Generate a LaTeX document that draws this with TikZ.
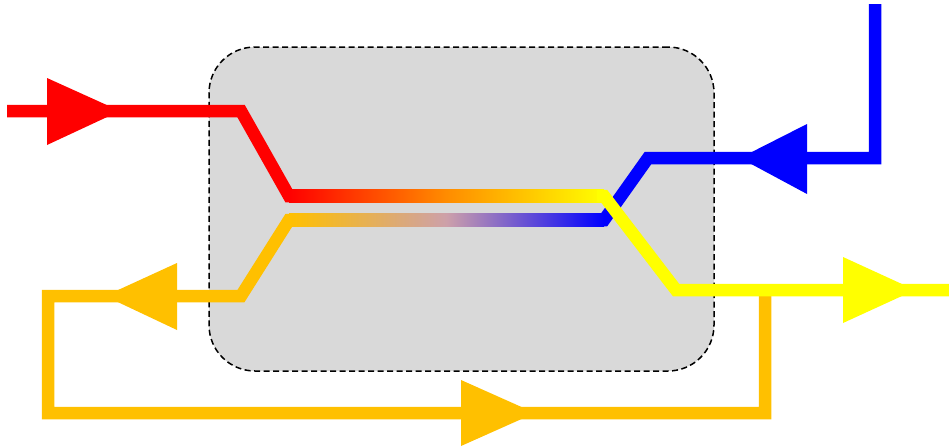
\documentclass[tikz,border=0pt]{standalone}
\definecolor{boxgray}{RGB}{217,217,217}
\definecolor{gold}{RGB}{255,192,0}
\definecolor{midpink}{RGB}{205,160,170}
\definecolor{pureblue}{RGB}{0,0,255}
\definecolor{pureyellow}{RGB}{255,255,0}
\definecolor{midorange}{RGB}{255,140,0}
\tikzset{
  flow/.style={line width=12.5pt, line join=miter, line cap=butt},
  panel/.style={fill=boxgray, draw=black, line width=1.5pt, dash pattern=on 6pt off 3.5pt, rounded corners=46pt}
}
\begin{document}
\begin{tikzpicture}[x=1pt,y=-1pt]
\useasboundingbox (0,0) rectangle (949,447);
% panel
\node[panel, minimum width=505pt, minimum height=324pt, inner sep=0pt] (box) at (461.5,209) {};
% coordinates
\coordinate (rin) at (7,111);
\coordinate (r1) at (241,111);
\coordinate (r2) at (289,196);
\coordinate (r3) at (296,196);
\coordinate (b0) at (875,4);
\coordinate (b1) at (875,158);
\coordinate (b2) at (648,158);
\coordinate (b3) at (604,220);
\coordinate (b4) at (597,220);
\coordinate (o0) at (765,290);
\coordinate (o1) at (765,413);
\coordinate (o2) at (48,413);
\coordinate (o3) at (48,296);
\coordinate (o4) at (241,296);
\coordinate (o5) at (289,220);
\coordinate (o6) at (296,220);
\coordinate (y0) at (597,196);
\coordinate (y1) at (604,196);
\coordinate (y2) at (676,290);
\coordinate (y3) at (949,290);
% orange loop
\draw[flow, gold] (o0) -- (o1) -- (o2) -- (o3) -- (o4) -- (o5) -- (o6);
% red input
\draw[flow, red] (rin) -- (r1) -- (r2) -- (r3);
% blue input
\draw[flow, pureblue] (b0) -- (b1) -- (b2) -- (b3) -- (b4);
% gradient segments
\shade[left color=red, right color=pureyellow, middle color=midorange] (289,189.75) rectangle (604,202.25);
\shade[left color=gold, right color=pureblue, middle color=midpink] (289,213.75) rectangle (604,226.25);
% yellow output
\draw[flow, pureyellow] (y0) -- (y1) -- (y2) -- (y3);
% arrowheads
\fill[red] (47,78) -- (120,111) -- (47,145) -- cycle;
\fill[pureblue] (807,124) -- (740,158) -- (807,194) -- cycle;
\fill[gold] (177,263) -- (105,296) -- (177,330) -- cycle;
\fill[gold] (461,380) -- (535,413) -- (461,446) -- cycle;
\fill[pureyellow] (843,257) -- (915,290) -- (843,323) -- cycle;
\end{tikzpicture}
\end{document}
